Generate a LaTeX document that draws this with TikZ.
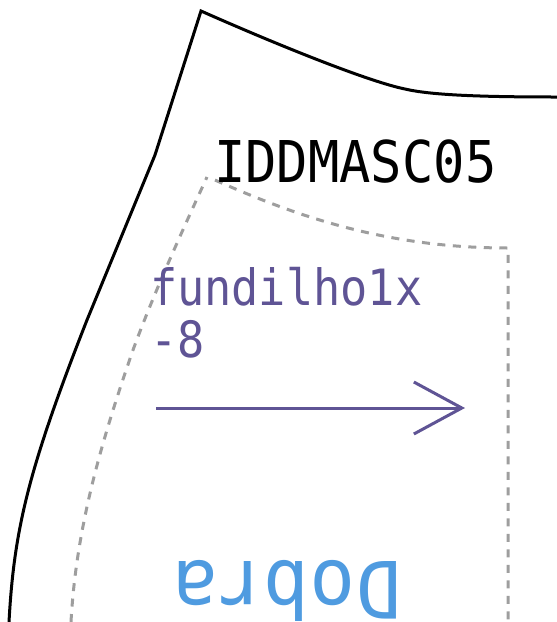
\documentclass[tikz,border=0pt]{standalone}
\usepackage{fontspec}
\setmonofont[FakeStretch=0.905]{DejaVu Sans Mono}
\newfontfamily\foldfont[FakeStretch=0.96]{DejaVu Sans Mono}
\usetikzlibrary{arrows.meta}
\definecolor{markpurple}{HTML}{5F5495}
\definecolor{foldblue}{HTML}{4F9BE0}
\definecolor{seamgray}{HTML}{9E9E9E}
\tikzstyle{cutline}=[draw,black,line width=3pt,line join=miter]
\tikzstyle{seamline}=[draw,seamgray,line width=3pt,dash pattern=on 8pt off 7.5pt]
\tikzstyle{grainline}=[draw,markpurple,line width=3pt,-{Straight Barb[length=48pt,width=52pt,line width=3pt]}]
\tikzstyle{label}=[inner sep=0pt,outer sep=0pt,font=\ttfamily]

\begin{document}
\begin{tikzpicture}[x=1pt,y=-1pt]
    \useasboundingbox (0,0) rectangle (557,622);

    % First we draw the outer cut line
    \path[cutline] (9,622) .. controls (14,530) and (28,470) .. (87,320) -- (155,155) -- (201,11)
        .. controls (280,46) and (370,82) .. (405,89) .. controls (430,95) and (480,97) .. (557,97);

    % Then the seam allowance
    \path[seamline] (71,622) .. controls (76,530) and (100,445) .. (133,350)
        .. controls (155,290) and (185,225) .. (207,177);
    \path[seamline] (215,180) .. controls (300,218) and (390,248) .. (508,248) -- (508,622);

    % Labels
    \node[label,anchor=base west,text=black] (code) at (214,182) {\fontsize{57.6}{57.6}\selectfont IDDMASC05};
    \node[label,anchor=base west,text=markpurple] (piece) at (150,305) {\fontsize{50}{50}\selectfont fundilho1x};
    \node[label,anchor=base west,text=markpurple] (size) at (150,357) {\fontsize{50}{50}\selectfont -8};
    \node[label,anchor=base,rotate=180,text=foldblue] (fold) at (287,561) {\foldfont\fontsize{79}{79}\selectfont Dobra};

    % Grain arrow
    \coordinate (grainstart) at (156,408);
    \coordinate (grainend) at (465,408);
    \path[grainline] (grainstart) -- (grainend);
\end{tikzpicture}
\end{document}
